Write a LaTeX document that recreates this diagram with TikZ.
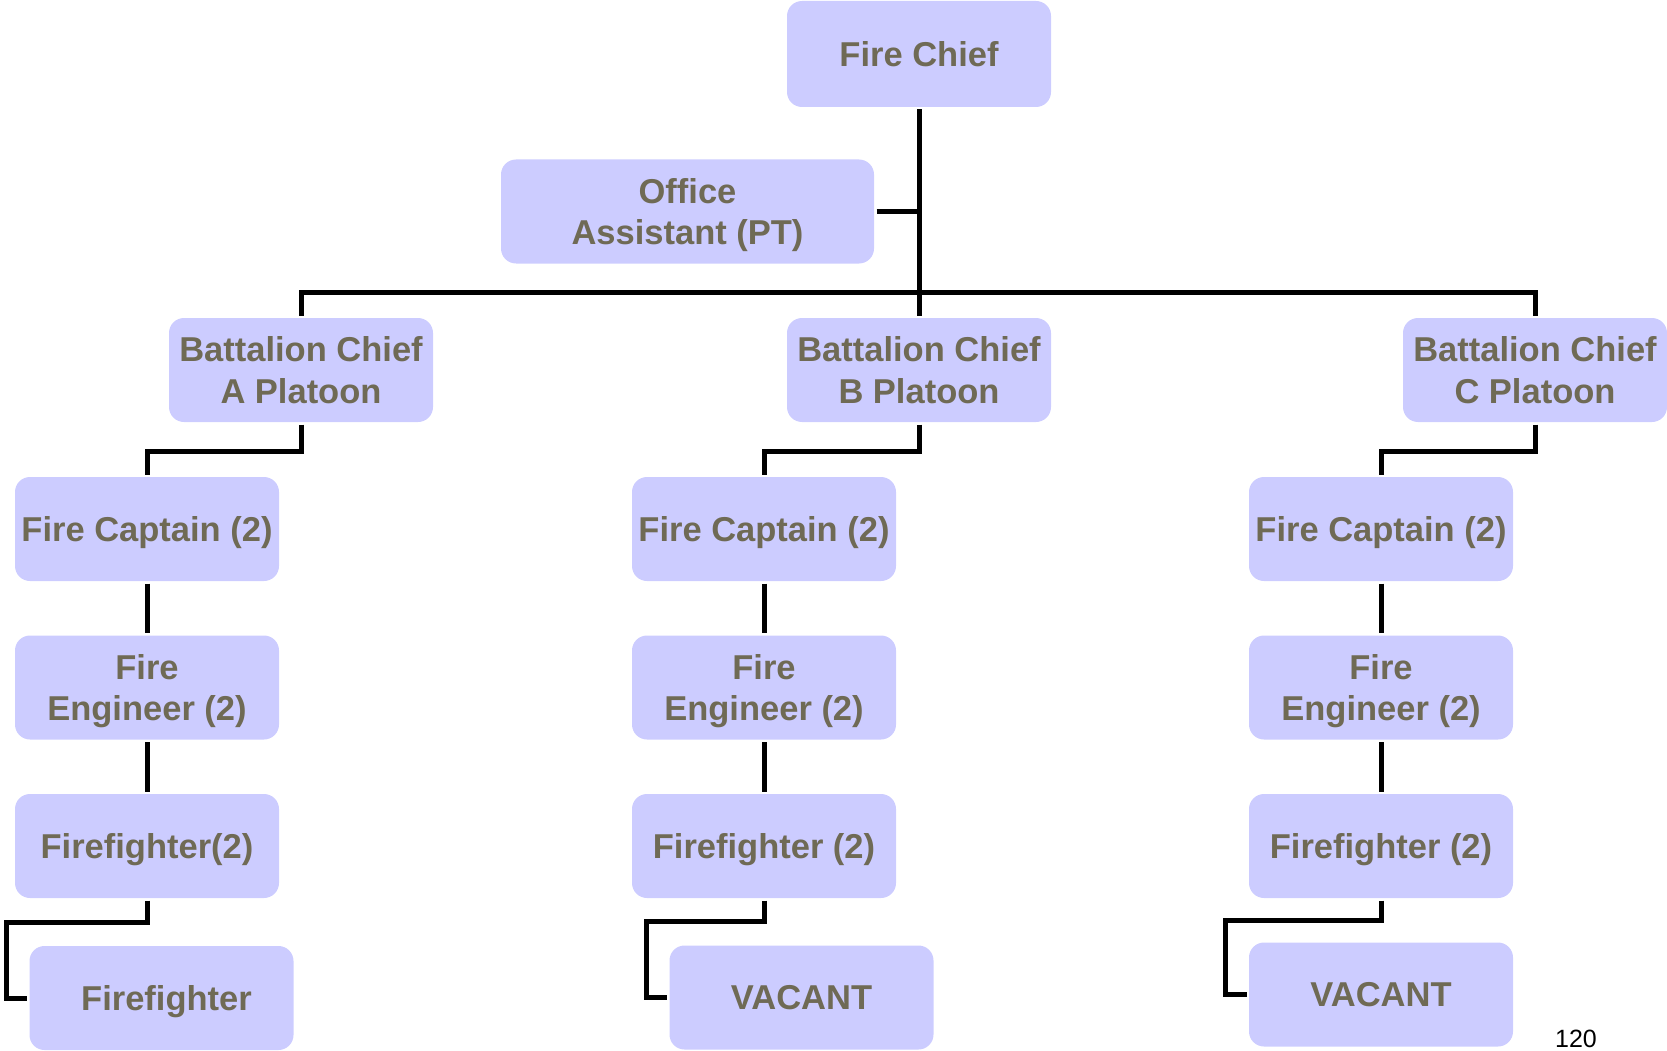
\documentclass[tikz,border=0pt]{standalone}
\usepackage{fontspec}
\setmainfont{Liberation Sans}
\usetikzlibrary{positioning}
\definecolor{boxfill}{RGB}{204,204,255}
\definecolor{boxtext}{RGB}{111,106,85}

\begin{document}
\begin{tikzpicture}
	[x=1pt, y=-1pt, node distance={158.5pt}, line width=5pt,
	 main/.style = {fill=boxfill, rounded corners=15pt, inner sep=0pt, minimum width=264pt, minimum height=104pt, align=center, text depth=0pt, text=boxtext, font=\fontsize{34.5}{41.5}\selectfont\bfseries}]
	\useasboundingbox (0,0) rectangle (1667,1051);
	\node[main, minimum height=106pt] (chief) at (919,54) {Fire Chief};
	\node[main, minimum width=373pt] (office) at (687.5,211.5) {Office\\Assistant (PT)};
	\node[main] (bcA) at (301,370) {Battalion Chief\\A Platoon};
	\node[main] (bcB) at (919,370) {Battalion Chief\\B Platoon};
	\node[main] (bcC) at (1535,370) {Battalion Chief\\C Platoon};

	\node[main] (capA) at (147,529) {Fire Captain (2)};
	\node[main] (engA) [below of = capA] {Fire\\Engineer (2)};
	\node[main] (ffA) [below of = engA] {Firefighter(2)};
	\node[main] (botA) at (161.5,998) {\hspace*{10pt}Firefighter};

	\node[main] (capB) at (764,529) {Fire Captain (2)};
	\node[main] (engB) [below of = capB] {Fire\\Engineer (2)};
	\node[main] (ffB) [below of = engB] {Firefighter (2)};
	\node[main] (botB) at (801.5,997.5) {VACANT};

	\node[main] (capC) at (1381,529) {Fire Captain (2)};
	\node[main] (engC) [below of = capC] {Fire\\Engineer (2)};
	\node[main] (ffC) [below of = engC] {Firefighter (2)};
	\node[main] (botC) at (1381,994.5) {VACANT};

	\node[font=\fontsize{25}{30}\selectfont] (page) at (1576,1039) {120};

	\coordinate (bus) at (919,292);
	\coordinate (kinkA) at (6,922);
	\coordinate (kinkB) at (646,921);
	\coordinate (kinkC) at (1225,920);

	\draw (chief.south) -- (bcB.north);
	\draw (office.east) -- (office.east -| chief.south);
	\draw (bcA.north) |- (bus) -| (bcC.north);

	\draw (bcA.south) -- ++(0,27) -| (capA.north);
	\draw (bcB.south) -- ++(0,27) -| (capB.north);
	\draw (bcC.south) -- ++(0,27) -| (capC.north);

	\draw (capA) -- (engA) -- (ffA);
	\draw (capB) -- (engB) -- (ffB);
	\draw (capC) -- (engC) -- (ffC);

	\draw (ffA.south) |- (kinkA) |- (botA.west);
	\draw (ffB.south) |- (kinkB) |- (botB.west);
	\draw (ffC.south) |- (kinkC) |- (botC.west);
\end{tikzpicture}
\end{document}
